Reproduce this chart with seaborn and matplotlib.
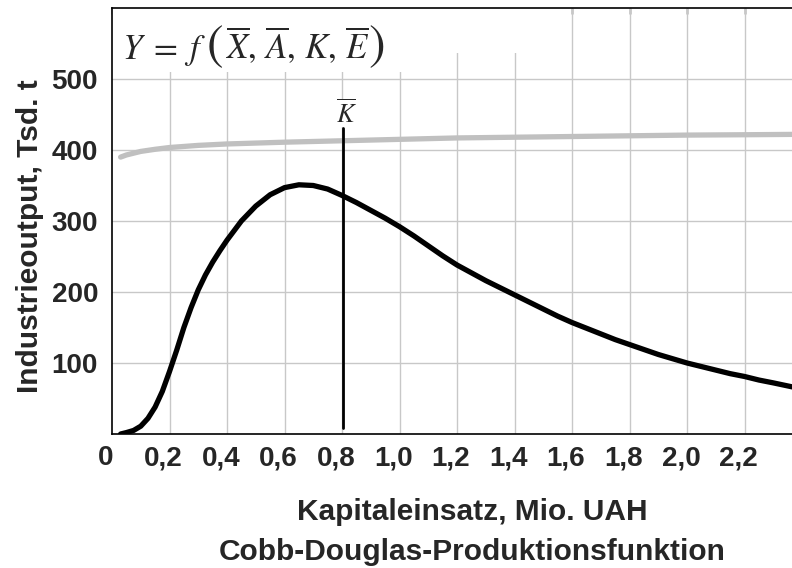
import matplotlib
matplotlib.use('Agg')
import matplotlib.pyplot as plt
import matplotlib.transforms as mtransforms
from matplotlib.patches import Rectangle
import pandas as pd
import seaborn as sns

sns.set_style('white')
plt.rcParams['font.family'] = ['Liberation Sans', 'DejaVu Sans']
plt.rcParams['mathtext.fontset'] = 'stix'

# Black curve: Cobb-Douglas output vs capital
kapital = [0.03, 0.05, 0.075, 0.1, 0.125, 0.15, 0.175, 0.2, 0.225, 0.25, 0.275,
           0.3, 0.325, 0.35, 0.375, 0.4, 0.45, 0.5, 0.55, 0.6, 0.65, 0.7, 0.75,
           0.8, 0.85, 0.9, 0.95, 1.0, 1.05, 1.1, 1.15, 1.2, 1.25, 1.3, 1.35,
           1.4, 1.45, 1.5, 1.55, 1.6, 1.65, 1.7, 1.75, 1.8, 1.85, 1.9, 1.95,
           2.0, 2.05, 2.1, 2.15, 2.2, 2.25, 2.3, 2.37]
output = [0, 2, 5, 11, 22, 38, 60, 88, 118, 150, 178,
          203, 224, 242, 258, 273, 300, 321, 337, 347, 351, 350, 345,
          336, 326, 315, 304, 292, 279, 265, 251, 238, 227, 216, 206,
          196, 186, 176, 166, 157, 149, 141, 133, 126, 119, 112, 106,
          100, 95, 90, 85, 81, 76, 72, 66]

# Grey curve
kapital_grau = [0.03, 0.05, 0.1, 0.15, 0.2, 0.3, 0.4, 0.6, 0.8, 1.0, 1.2,
                1.4, 1.6, 1.8, 2.0, 2.2, 2.37]
output_grau = [390, 393, 398, 401, 403.5, 406.5, 408.5, 411, 413, 415, 417,
               418, 419, 420, 421, 421.5, 422]

# K-bar line
k_bar = 0.805
k_bar_von, k_bar_bis = 9, 431

x_ticks = [0, 0.2, 0.4, 0.6, 0.8, 1.0, 1.2, 1.4, 1.6, 1.8, 2.0, 2.2]
x_labels = ['0', '0,2', '0,4', '0,6', '0,8', '1,0', '1,2', '1,4', '1,6', '1,8', '2,0', '2,2']
y_ticks = [0, 100, 200, 300, 400, 500, 600]
y_labels = ['', '100', '200', '300', '400', '500', '']

df = pd.DataFrame({'K': kapital, 'Y': output})
df_grau = pd.DataFrame({'K': kapital_grau, 'Y': output_grau})

W, H = 792, 568
fig = plt.figure(figsize=(W / 100, H / 100), dpi=100)
ax = fig.add_axes([112 / W, 134 / H, 680 / W, 426 / H])

# grid drawn by hand so the white box can sit between grid and ticks
for xt in x_ticks[1:]:
    ax.axvline(xt, color='#c8c8c8', linewidth=1, zorder=0.8)
for yt in y_ticks[1:-1]:
    ax.axhline(yt, color='#c8c8c8', linewidth=1, zorder=0.8)

sns.lineplot(data=df_grau, x='K', y='Y', ax=ax, color='#c0c0c0', linewidth=3.8,
             solid_joinstyle='round')
sns.lineplot(data=df, x='K', y='Y', ax=ax, color='black', linewidth=3.8,
             solid_joinstyle='round')
ax.plot([k_bar, k_bar], [k_bar_von, k_bar_bis], color='black', linewidth=2)

ax.set_xlim(0, 2.365)
ax.set_ylim(0, 600)
ax.set_xticks(x_ticks)
ax.set_xticklabels(x_labels)
ax.set_yticks(y_ticks)
ax.set_yticklabels(y_labels)
ax.set_xlabel('')
ax.set_ylabel('')
ax.grid(False)

ax.tick_params(axis='both', direction='in', length=4, width=1, color='black',
               labelsize=20, top=True)
ax.tick_params(axis='x', pad=8)
ax.tick_params(axis='y', pad=10)
shift = mtransforms.ScaledTranslation(-6 / 100, 0, fig.dpi_scale_trans)
for lbl in ax.get_xticklabels():
    lbl.set_fontweight('bold')
    lbl.set_transform(lbl.get_transform() + shift)
for lbl in ax.get_yticklabels():
    lbl.set_fontweight('bold')

for side in ['left', 'top', 'bottom']:
    ax.spines[side].set_color('black')
    ax.spines[side].set_linewidth(1.2)
ax.spines['right'].set_visible(False)

# white area behind the formula
ax.add_patch(Rectangle((0, 1 - 64 / 426), 298 / 680, 64 / 426, transform=ax.transAxes,
                       facecolor='white', edgecolor='none', zorder=1))
ax.add_patch(Rectangle((298 / 680, 1 - 45 / 426), 110 / 680, 45 / 426,
                       transform=ax.transAxes, facecolor='white', edgecolor='none',
                       zorder=1))

# formula, pieced together so that the parentheses can be large
fig.text(122 / W, 1 - 59 / H, r'$Y\;=\;f$', fontsize=25, ha='left', va='baseline')
fig.text(206 / W, 1 - 47 / H, r'$($', fontsize=36, ha='left', va='center')
fig.text(225 / W, 1 - 59 / H, r'$\overline{X},\,\overline{A},\,K,\,\overline{E}$',
         fontsize=25, ha='left', va='baseline')
fig.text(368 / W, 1 - 47 / H, r'$)$', fontsize=36, ha='left', va='center')

ax.text(0.815, 452, r'$\overline{K}$', fontsize=19, ha='center', va='center',
        bbox=dict(facecolor='white', edgecolor='none', pad=0), zorder=4)

fig.text(30 / W, 1 - 236 / H, 'Industrieoutput, Tsd. t', rotation=90,
         ha='center', va='center', fontsize=21.5, fontweight='bold')
fig.text(472 / W, 1 - 520 / H, 'Kapitaleinsatz, Mio. UAH',
         ha='center', va='baseline', fontsize=21.5, fontweight='bold')
fig.text(472 / W, 1 - 560 / H, 'Cobb-Douglas-Produktionsfunktion',
         ha='center', va='baseline', fontsize=21.5, fontweight='bold')

plt.savefig('out.png', dpi=100)
